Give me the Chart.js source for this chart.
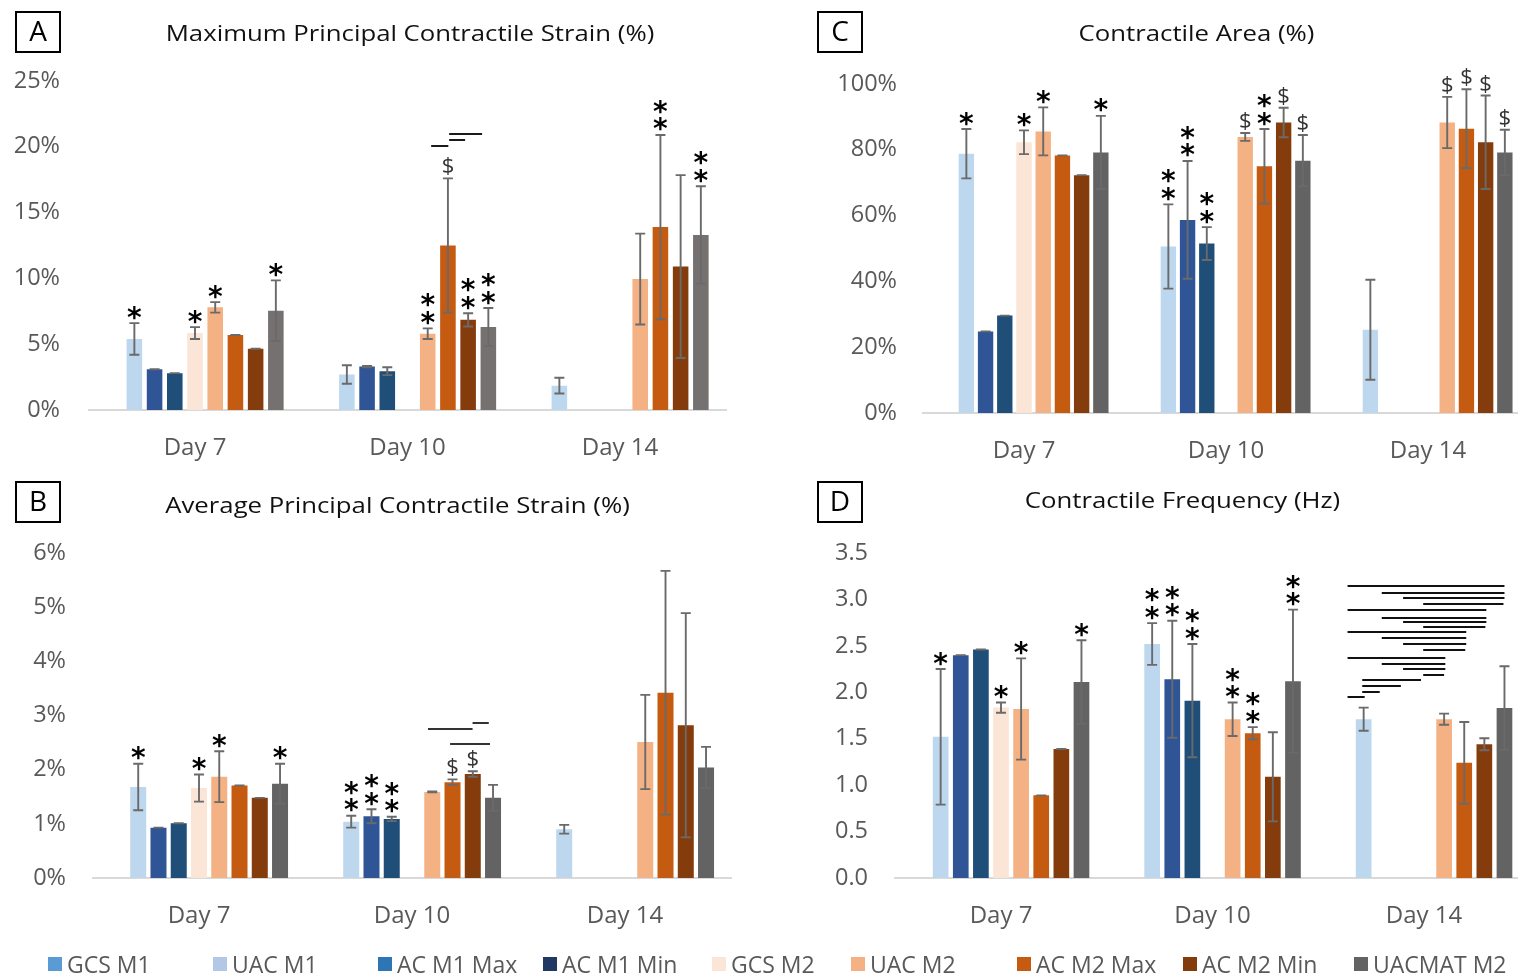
<!DOCTYPE html>
<html>
<head>
<meta charset="utf-8">
<script src="https://cdn.jsdelivr.net/npm/chart.js@4.4.1/dist/chart.umd.min.js"></script>
<style>
  html, body { margin: 0; padding: 0; background: #fff; }
  body { width: 1518px; height: 977px; overflow: hidden; position: relative; font-family: "Open Sans", sans-serif; }
  canvas { position: absolute; }
  .item { position: absolute; top: 950px; height: 28px; display: flex; align-items: center; color: #595959; font-size: 23px; white-space: nowrap; }
  .item i { display: inline-block; width: 14px; height: 14px; margin-right: 5px; }
</style>
</head>
<body>
<canvas id="cA" width="760" height="470" style="left:0;top:0"></canvas>
<canvas id="cB" width="760" height="507" style="left:0;top:470px"></canvas>
<canvas id="cC" width="780" height="470" style="left:760px;top:0"></canvas>
<canvas id="cD" width="780" height="507" style="left:760px;top:470px"></canvas>
<div id="legend"></div>
<script>
// ---- categories and series ----
const days = ['Day 7', 'Day 10', 'Day 14'];
const seriesNames = ['GCS M1', 'UAC M1', 'AC M1 Max', 'AC M1 Min', 'GCS M2', 'UAC M2', 'AC M2 Max', 'AC M2 Min', 'UACMAT M2'];

// ---- A: maximum principal contractile strain (%) ----
const maxStrain = [
  [null, null, null], [5.4, 2.7, 1.85], [3.1, 3.3, null], [2.8, 2.95, null], [5.85, null, null],
  [7.8, 5.8, 9.95], [5.7, 12.5, 13.9], [4.65, 6.85, 10.9], [7.55, 6.3, 13.3]
];
const maxStrainErr = [
  [0, 0, 0], [1.2, 0.7, 0.6], [0, 0.05, 0], [0, 0.3, 0], [0.45, 0, 0],
  [0.4, 0.4, 3.45], [0, 5.1, 7.0], [0, 0.5, 6.95], [2.3, 1.45, 3.7]
];
const maxStrainTicks = ['0%', '5%', '10%', '15%', '20%', '25%'];
const maxStrainMarks = [
  [0, 1, '*'], [0, 4, '*'], [0, 5, '*'], [0, 8, '*'],
  [1, 5, '**'], [1, 6, '$'], [1, 7, '**'], [1, 8, '**'],
  [2, 6, '**'], [2, 8, '**']
];
const maxStrainBrackets = [[1, 5.17, 6.02, 20.08], [1, 6.06, 6.85, 20.5], [1, 6.06, 7.69, 20.97]];

// ---- B: average principal contractile strain (%) ----
const avgStrain = [
  [null, null, null], [1.68, 1.04, 0.9], [0.93, 1.14, null], [1.01, 1.09, null], [1.66, null, null],
  [1.87, 1.59, 2.51], [1.71, 1.77, 3.42], [1.48, 1.92, 2.82], [1.74, 1.48, 2.04]
];
const avgStrainErr = [
  [0, 0, 0], [0.43, 0.11, 0.08], [0, 0.13, 0], [0, 0.04, 0], [0.25, 0, 0],
  [0.47, 0.01, 0.87], [0, 0.05, 2.25], [0, 0.05, 2.07], [0.37, 0.24, 0.38]
];
const avgStrainTicks = ['0%', '1%', '2%', '3%', '4%', '5%', '6%'];
const avgStrainMarks = [
  [0, 1, '*'], [0, 4, '*'], [0, 5, '*'], [0, 8, '*'],
  [1, 1, '**'], [1, 2, '**'], [1, 3, '**'], [1, 6, '$'], [1, 7, '$']
];
const avgStrainBrackets = [[1, 4.79, 6.99, 2.745], [1, 6.99, 7.79, 2.856], [1, 5.88, 7.85, 2.47]];

// ---- C: contractile area (%) ----
const area = [
  [null, null, null], [78.8, 50.6, 25.3], [24.8, 58.7, null], [29.6, 51.5, null], [82.3, null, null],
  [85.6, 83.9, 88.3], [78.3, 75.0, 86.4], [72.3, 88.3, 82.3], [79.2, 76.7, 79.2]
];
const areaErr = [
  [0, 0, 0], [7.5, 12.8, 15.2], [0, 17.9, 0], [0, 5, 0], [3.6, 0, 0],
  [7.3, 1.2, 7.8], [0, 11.3, 12], [0, 4.5, 14.2], [11.1, 7.8, 6.9]
];
const areaTicks = ['0%', '20%', '40%', '60%', '80%', '100%'];
const areaMarks = [
  [0, 1, '*'], [0, 4, '*'], [0, 5, '*'], [0, 8, '*'],
  [1, 1, '**'], [1, 2, '**'], [1, 3, '**'], [1, 5, '$'], [1, 6, '**'], [1, 7, '$'], [1, 8, '$'],
  [2, 5, '$'], [2, 6, '$'], [2, 7, '$'], [2, 8, '$']
];
const areaBrackets = [];

// ---- D: contractile frequency (Hz) ----
const freq = [
  [null, null, null], [1.52, 2.52, 1.71], [2.40, 2.14, null], [2.46, 1.91, null], [1.835, null, null],
  [1.82, 1.71, 1.71], [0.89, 1.56, 1.24], [1.39, 1.09, 1.44], [2.11, 2.12, 1.83]
];
const freqErr = [
  [0, 0, 0], [0.73, 0.225, 0.125], [0, 0.63, 0], [0, 0.61, 0], [0.055, 0, 0],
  [0.545, 0.18, 0.06], [0, 0.065, 0.44], [0, 0.48, 0.065], [0.45, 0.77, 0.45]
];
const freqTicks = ['0.0', '0.5', '1.0', '1.5', '2.0', '2.5', '3.0', '3.5'];
const freqMarks = [
  [0, 1, '*'], [0, 4, '*'], [0, 5, '*'], [0, 8, '*'],
  [1, 1, '**'], [1, 2, '**'], [1, 3, '**'], [1, 5, '**'], [1, 6, '**'], [1, 8, '**']
];
const freqBrackets = [
  [2, 0.2, 8.0, 3.145], [2, 1.9, 8.0, 3.065], [2, 2.96, 8.0, 3.02], [2, 3.96, 7.95, 2.955],
  [2, 0.2, 7.1, 2.885], [2, 1.9, 7.1, 2.805], [2, 2.96, 7.1, 2.76], [2, 3.96, 7.05, 2.70],
  [2, 0.2, 6.1, 2.645], [2, 1.9, 6.1, 2.585], [2, 2.96, 6.1, 2.525], [2, 3.96, 6.05, 2.46],
  [2, 0.2, 5.06, 2.37], [2, 1.9, 5.06, 2.31], [2, 2.96, 5.06, 2.25], [2, 3.96, 5.0, 2.19],
  [2, 0.93, 3.85, 2.13], [2, 0.93, 2.85, 2.065], [2, 0.93, 1.8, 2.005], [2, 0.2, 1.05, 1.95]
];

// ---- colours ----
const barColors = ['#5B9BD5', '#BDD7EE', '#2F5597', '#1F4E79', '#FBE5D6', '#F4B183', '#C55A11', '#843C0C', '#636363'];
const legendColors = ['#5B9BD5', '#B4C7E7', '#2E75B6', '#203864', '#FBE5D6', '#F4B183', '#C55A11', '#843C0C', '#636363'];

// Error bars, significance symbols and comparison lines drawn on top of the bars
const annotations = {
  id: 'annotations',
  afterDatasetsDraw(chart, args, o) {
    const ctx = chart.ctx;
    const ys = chart.scales.y;
    const cap = 5;
    const topOf = {};
    ctx.save();
    ctx.strokeStyle = '#6a6a6a';
    ctx.lineWidth = 1.9;
    chart.data.datasets.forEach((ds, s) => {
      const meta = chart.getDatasetMeta(s);
      ds.data.forEach((v, c) => {
        if (v == null) return;
        const e = o.errors[s][c] || 0;
        const x = meta.data[c].x;
        const yt = ys.getPixelForValue(v + e);
        const yb = ys.getPixelForValue(v - e);
        topOf[c + ':' + s] = yt;
        ctx.beginPath();
        ctx.moveTo(x, yt); ctx.lineTo(x, yb);
        ctx.moveTo(x - cap, yt); ctx.lineTo(x + cap, yt);
        ctx.moveTo(x - cap, yb); ctx.lineTo(x + cap, yb);
        ctx.stroke();
      });
    });

    const xAt = (c, s) => {
      const x0 = chart.getDatasetMeta(0).data[c].x;
      const x1 = chart.getDatasetMeta(1).data[c].x;
      return x0 + s * (x1 - x0);
    };

    // stars and dollar signs
    ctx.textAlign = 'center';
    ctx.textBaseline = 'alphabetic';
    o.marks.forEach(([c, s, txt]) => {
      const x = xAt(c, s);
      const yt = topOf[c + ':' + s];
      if (txt === '$') {
        ctx.font = '22px "Open Sans"';
        ctx.fillStyle = '#333';
        const m = ctx.measureText('$');
        const cy = yt - 12;
        ctx.fillText('$', x, cy + (m.actualBoundingBoxAscent - m.actualBoundingBoxDescent) / 2);
      } else {
        ctx.font = 'bold 28px "DejaVu Sans"';
        ctx.fillStyle = '#000';
        const m = ctx.measureText('*');
        const off = (m.actualBoundingBoxAscent - m.actualBoundingBoxDescent) / 2;
        for (let k = 0; k < txt.length; k++) {
          const cy = yt - 10.5 - k * 17.5;
          ctx.fillText('*', x, cy + off);
        }
      }
    });

    // comparison lines
    ctx.strokeStyle = o.lineColor;
    ctx.lineWidth = 2;
    o.brackets.forEach(([c, s0, s1, v]) => {
      const y = Math.round(ys.getPixelForValue(v));
      ctx.beginPath();
      ctx.moveTo(xAt(c, s0), y);
      ctx.lineTo(xAt(c, s1), y);
      ctx.stroke();
    });
    ctx.restore();
  }
};

// Panel letter box and title
const header = {
  id: 'header',
  afterDraw(chart, args, o) {
    const ctx = chart.ctx;
    ctx.save();
    ctx.strokeStyle = '#000';
    ctx.lineWidth = 2;
    ctx.strokeRect(o.box[0], o.box[1], 44, 40);
    ctx.fillStyle = '#000';
    ctx.font = '28px "Open Sans"';
    ctx.textAlign = 'center';
    ctx.textBaseline = 'middle';
    ctx.fillText(o.letter, o.box[0] + 22, o.box[1] + 21);
    ctx.fillStyle = '#111';
    ctx.font = '22px "Open Sans"';
    ctx.translate(o.titleAt[0], o.titleAt[1]);
    ctx.scale(1.17, 1);
    ctx.fillText(o.text, 0, 0);
    ctx.restore();
  }
};

function makePanel(p) {
  const datasets = seriesNames.map((name, s) => ({
    label: name,
    data: p.values[s],
    backgroundColor: (s === 8 && p.lastColor) ? p.lastColor : barColors[s],
    borderWidth: 0,
    categoryPercentage: 0.856,
    barPercentage: p.barPct
  }));
  new Chart(document.getElementById(p.id), {
    type: 'bar',
    data: { labels: days, datasets },
    plugins: [annotations, header],
    options: {
      responsive: false,
      animation: false,
      layout: { padding: { left: 0, top: p.padTop, right: p.padRight, bottom: 0 } },
      plugins: {
        legend: { display: false },
        tooltip: { enabled: false },
        annotations: { errors: p.errors, marks: p.marks, brackets: p.brackets, lineColor: p.lineColor },
        header: { letter: p.letter, text: p.title, titleAt: p.titleAt, box: p.box }
      },
      scales: {
        x: {
          grid: { display: false, drawTicks: false },
          border: { display: true, color: '#D9D9D9', width: 2 },
          ticks: { color: '#595959', font: { family: 'Open Sans', size: 24 }, padding: 24, maxRotation: 0 },
          afterFit(scale) { scale.height = p.xHeight; }
        },
        y: {
          min: 0, max: p.max,
          grid: { display: false, drawTicks: false },
          border: { display: false },
          ticks: {
            stepSize: p.step,
            color: '#595959',
            font: { family: 'Open Sans', size: 23.5 },
            padding: p.yPad,
            callback: (v, i) => p.tickLabels[i]
          },
          afterFit(scale) { scale.width = p.yWidth; }
        }
      }
    }
  });
}

makePanel({ id: 'cA', values: maxStrain, errors: maxStrainErr, marks: maxStrainMarks, brackets: maxStrainBrackets,
  tickLabels: maxStrainTicks, max: 25, step: 5, padTop: 81, padRight: 33.75, yWidth: 88.75, yPad: 28.75, xHeight: 60,
  barPct: 0.77, lastColor: '#767171', lineColor: '#1a1a1a',
  letter: 'A', title: 'Maximum Principal Contractile Strain (%)', titleAt: [410, 35], box: [16, 12] });

makePanel({ id: 'cB', values: avgStrain, errors: avgStrainErr, marks: avgStrainMarks, brackets: avgStrainBrackets,
  tickLabels: avgStrainTicks, max: 6, step: 1, padTop: 83, padRight: 28.5, yWidth: 92.5, yPad: 26.5, xHeight: 99,
  barPct: 0.79, lineColor: '#333',
  letter: 'B', title: 'Average Principal Contractile Strain (%)', titleAt: [397.5, 37], box: [16, 12] });

makePanel({ id: 'cC', values: area, errors: areaErr, marks: areaMarks, brackets: areaBrackets,
  tickLabels: areaTicks, max: 100, step: 20, padTop: 84, padRight: 11, yWidth: 163, yPad: 26, xHeight: 57,
  barPct: 0.8, lineColor: '#111',
  letter: 'C', title: 'Contractile Area (%)', titleAt: [436.5, 35], box: [58, 12] });

makePanel({ id: 'cD', values: freq, errors: freqErr, marks: freqMarks, brackets: freqBrackets,
  tickLabels: freqTicks, max: 3.5, step: 0.5, padTop: 83, padRight: 10.25, yWidth: 135.25, yPad: 27.25, xHeight: 99,
  barPct: 0.78, lineColor: '#111',
  letter: 'D', title: 'Contractile Frequency (Hz)', titleAt: [422.5, 32], box: [58, 12] });

// Shared legend along the bottom
const legendX = [48, 213, 378, 543, 712, 851, 1017, 1183, 1354];
const legend = document.getElementById('legend');
seriesNames.forEach((name, s) => {
  const item = document.createElement('div');
  item.className = 'item';
  item.style.left = legendX[s] + 'px';
  const sw = document.createElement('i');
  sw.style.background = legendColors[s];
  item.appendChild(sw);
  item.appendChild(document.createTextNode(name));
  legend.appendChild(item);
});
</script>
</body>
</html>
